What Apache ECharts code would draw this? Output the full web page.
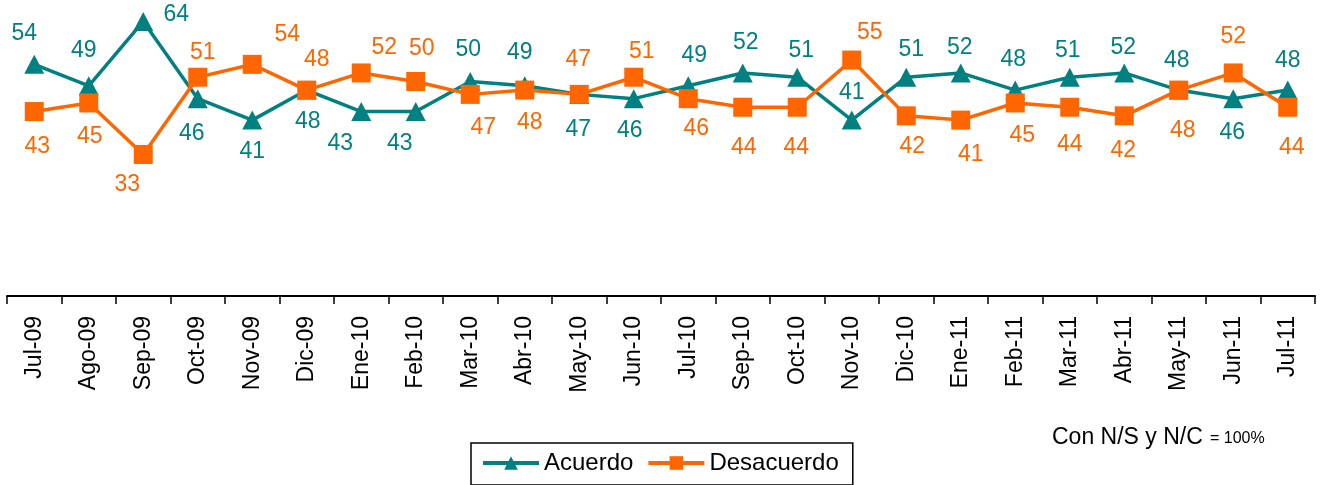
<!DOCTYPE html>
<html>
<head>
<meta charset="utf-8">
<script src="https://cdn.jsdelivr.net/npm/echarts@6/dist/echarts.min.js"></script>
<style>
html,body{margin:0;padding:0;background:#fff;}
#chart{width:1323px;height:485px;}
</style>
</head>
<body>
<div id="chart"></div>
<script>
// ---- data ----
const categories = ['Jul-09','Ago-09','Sep-09','Oct-09','Nov-09','Dic-09','Ene-10','Feb-10','Mar-10','Abr-10','May-10','Jun-10','Jul-10','Sep-10','Oct-10','Nov-10','Dic-10','Ene-11','Feb-11','Mar-11','Abr-11','May-11','Jun-11','Jul-11'];
const acuerdo    = [54,49,64,46,41,48,43,43,50,49,47,46,49,52,51,41,51,52,48,51,52,48,46,48];
const desacuerdo = [43,45,33,51,54,48,52,50,47,48,47,51,46,44,44,55,42,41,45,44,42,48,52,44];

// ---- label placement (style only) ----
const acuerdoLabelOffset = [[-10,-31],[-5,-35],[33,-7],[-6,35],[0,32],[1,32],[-21,32],[-16,32],[-2,-32],[-5,-33],[-1,35],[-4,32],[6,-30],[3,-30],[4,-27],[0,-27],[5,-28],[-1,-25],[-2,-30],[-2,-27],[-1,-25],[-2,-29],[-1,34],[0,-29]];
const desacuerdoLabelOffset = [[3,35],[1,34],[-16,30],[5,-25],[35,-30],[10,-30],[23,-25],[6,-33],[13,33],[5,33],[-1,-35],[8,-26],[8,30],[1,40],[-1,40],[18,-27],[6,31],[10,35],[7,33],[0,37],[-1,35],[4,41],[0,-36],[4,40]];

const TEAL = '#008080';
const ORANGE = '#FF6600';
const FONT = 'Arial, "Liberation Sans", sans-serif';

function build(values, offsets) {
  return values.map((v, i) => ({ value: v, label: { offset: offsets[i] } }));
}

const chart = echarts.init(document.getElementById('chart'), null, { renderer: 'canvas' });
chart.setOption({
  animation: false,
  backgroundColor: '#ffffff',
  grid: { left: 7, right: 8, top: 0, bottom: 189, containLabel: false },
  xAxis: {
    type: 'category',
    data: categories,
    boundaryGap: true,
    axisLine: { show: true, onZero: false, lineStyle: { color: '#000', width: 2 } },
    axisTick: { show: true, length: 8, inside: false, alignWithLabel: false, lineStyle: { color: '#000', width: 1.5 } },
    axisLabel: { rotate: 90, margin: 20, color: '#000', fontSize: 23, fontFamily: FONT, interval: 0 },
    splitLine: { show: false }
  },
  yAxis: {
    type: 'value', min: 0, max: 69, show: false,
    splitLine: { show: false }
  },
  legend: {
    left: 471, top: 443,
    orient: 'horizontal',
    data: ['Acuerdo', 'Desacuerdo'],
    itemWidth: 56, itemHeight: 17, itemGap: 13,
    padding: [8, 14, 10, 10],
    borderColor: '#000', borderWidth: 1.5,
    backgroundColor: '#fff',
    lineStyle: { width: 4 },
    textStyle: { fontSize: 24, fontFamily: FONT, color: '#000' }
  },
  graphic: [
    { type: 'text', left: 1052, top: 426, style: { text: 'Con N/S y N/C', fontSize: 23, fontFamily: FONT, fill: '#000' } },
    { type: 'text', left: 1210, top: 431, style: { text: '= 100%', fontSize: 16, fontFamily: FONT, fill: '#000' } }
  ],
  series: [
    {
      name: 'Acuerdo', type: 'line',
      data: build(acuerdo, acuerdoLabelOffset),
      symbol: 'triangle', symbolSize: [20, 19],
      itemStyle: { color: TEAL },
      lineStyle: { color: TEAL, width: 3.5 },
      label: { show: true, position: 'inside', color: TEAL, fontSize: 23, fontFamily: FONT, align: 'center', verticalAlign: 'middle' },
      z: 2
    },
    {
      name: 'Desacuerdo', type: 'line',
      data: build(desacuerdo, desacuerdoLabelOffset),
      symbol: 'rect', symbolSize: 19,
      itemStyle: { color: ORANGE },
      lineStyle: { color: ORANGE, width: 3.5 },
      label: { show: true, position: 'inside', color: ORANGE, fontSize: 23, fontFamily: FONT, align: 'center', verticalAlign: 'middle' },
      z: 3
    }
  ]
});
</script>
</body>
</html>
